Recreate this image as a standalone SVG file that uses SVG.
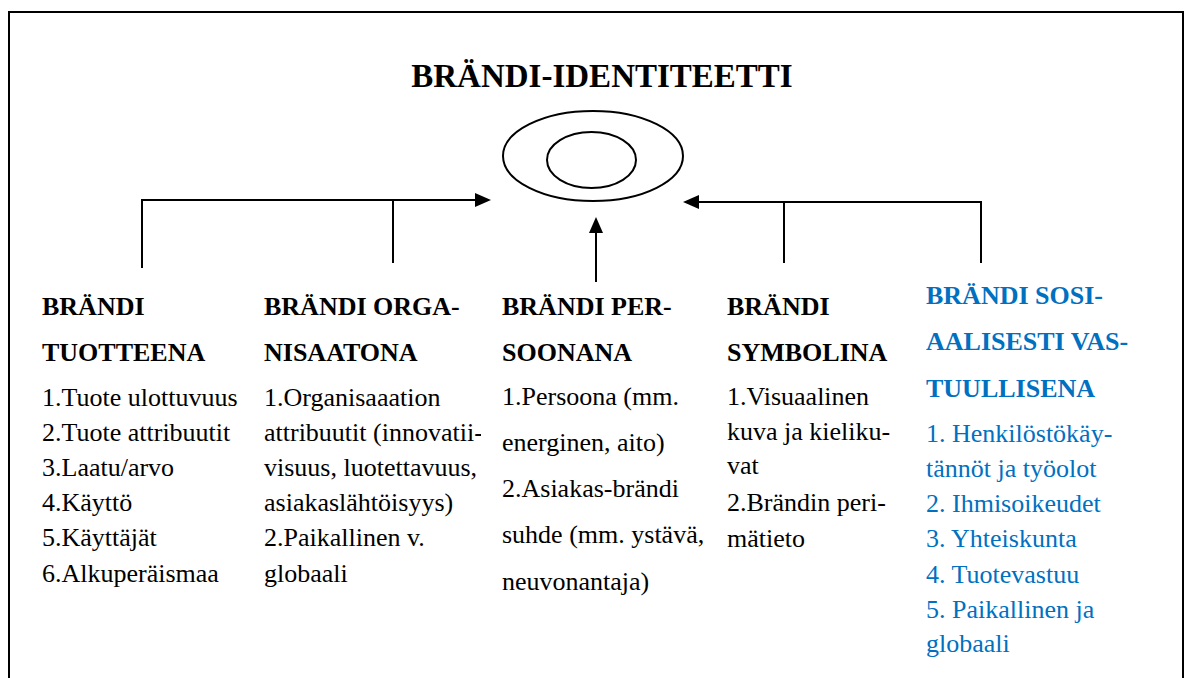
<svg xmlns="http://www.w3.org/2000/svg" width="1190" height="678" viewBox="0 0 1190 678">
  <style>
    .frame { fill: #ffffff; stroke: #000000; stroke-width: 2; }
    .line { fill: none; stroke: #000000; stroke-width: 2; }
    .head { fill: #000000; }
    .title { font-family: "Liberation Serif", "Times New Roman", serif; font-weight: bold; font-size: 33px; fill: #000000; }
    .h { font-family: "Liberation Serif", "Times New Roman", serif; font-weight: bold; font-size: 26px; fill: #000000; }
    .t { font-family: "Liberation Serif", "Times New Roman", serif; font-size: 26px; fill: #000000; }
    .blue { fill: #0070C0; }
  </style>
  <defs>
    <clipPath id="clip-col2"><rect x="250" y="280" width="231" height="380"/></clipPath>
    <clipPath id="clip-col3"><rect x="490" y="280" width="213" height="380"/></clipPath>
  </defs>

  <!-- outer frame, open at the bottom edge -->
  <rect class="frame" x="9" y="12" width="1174" height="700"/>

  <!-- central identity node -->
  <g id="identity">
    <text class="title" x="602" y="87" text-anchor="middle">BRÄNDI-IDENTITEETTI</text>
    <ellipse class="line" cx="593" cy="156" rx="90" ry="45"/>
    <ellipse class="line" cx="591.5" cy="160" rx="44.5" ry="28"/>
  </g>

  <!-- connectors -->
  <g id="connectors">
    <path class="line" d="M142,268 V200 H477"/>
    <path class="line" d="M393,200 V263"/>
    <polygon class="head" points="491,200 475,193 475,207"/>

    <path class="line" d="M596,282 V230"/>
    <polygon class="head" points="596,217 589,233 603,233"/>

    <path class="line" d="M981,263 V202 H696"/>
    <path class="line" d="M784,202 V263"/>
    <polygon class="head" points="683,202 699,195 699,209"/>
  </g>

  <!-- brand as product -->
  <g id="tuotteena">
    <text class="h" x="42" y="315">BRÄNDI</text>
    <text class="h" x="42" y="360.5">TUOTTEENA</text>
    <text class="t" x="42" y="406">1.Tuote ulottuvuus</text>
    <text class="t" x="42" y="441">2.Tuote attribuutit</text>
    <text class="t" x="42" y="476">3.Laatu/arvo</text>
    <text class="t" x="42" y="511">4.Käyttö</text>
    <text class="t" x="42" y="546">5.Käyttäjät</text>
    <text class="t" x="42" y="582">6.Alkuperäismaa</text>
  </g>

  <!-- brand as organisation -->
  <g id="organisaatona" clip-path="url(#clip-col2)">
    <text class="h" x="264" y="315">BRÄNDI ORGA-</text>
    <text class="h" x="264" y="360.5">NISAATONA</text>
    <text class="t" x="264" y="406">1.Organisaaation</text>
    <text class="t" x="264" y="441">attribuutit (innovatii-</text>
    <text class="t" x="264" y="476">visuus, luotettavuus,</text>
    <text class="t" x="264" y="511">asiakaslähtöisyys)</text>
    <text class="t" x="264" y="546">2.Paikallinen v.</text>
    <text class="t" x="264" y="582">globaali</text>
  </g>

  <!-- brand as persona -->
  <g id="persoonana" clip-path="url(#clip-col3)">
    <text class="h" x="502" y="315">BRÄNDI PER-</text>
    <text class="h" x="502" y="360.5">SOONANA</text>
    <text class="t" x="502" y="405">1.Persoona (mm.</text>
    <text class="t" x="502" y="451">energinen, aito)</text>
    <text class="t" x="502" y="497">2.Asiakas-brändi</text>
    <text class="t" x="502" y="543">suhde (mm. ystävä,</text>
    <text class="t" x="502" y="590">neuvonantaja)</text>
  </g>

  <!-- brand as symbol -->
  <g id="symbolina">
    <text class="h" x="727" y="315">BRÄNDI</text>
    <text class="h" x="727" y="360.5">SYMBOLINA</text>
    <text class="t" x="727" y="405">1.Visuaalinen</text>
    <text class="t" x="727" y="440">kuva ja kieliku-</text>
    <text class="t" x="727" y="474">vat</text>
    <text class="t" x="727" y="510.5">2.Brändin peri-</text>
    <text class="t" x="727" y="546.5">mätieto</text>
  </g>

  <!-- brand as socially responsible -->
  <g id="vastuullisena">
    <text class="h blue" x="926" y="303.5">BRÄNDI SOSI-</text>
    <text class="h blue" x="926" y="350">AALISESTI VAS-</text>
    <text class="h blue" x="926" y="396.5">TUULLISENA</text>
    <text class="t blue" x="926" y="441.5">1. Henkilöstökäy-</text>
    <text class="t blue" x="926" y="476.5">tännöt ja työolot</text>
    <text class="t blue" x="926" y="511.5">2. Ihmisoikeudet</text>
    <text class="t blue" x="926" y="547">3. Yhteiskunta</text>
    <text class="t blue" x="926" y="583">4. Tuotevastuu</text>
    <text class="t blue" x="926" y="618">5. Paikallinen ja</text>
    <text class="t blue" x="926" y="652">globaali</text>
  </g>
</svg>
